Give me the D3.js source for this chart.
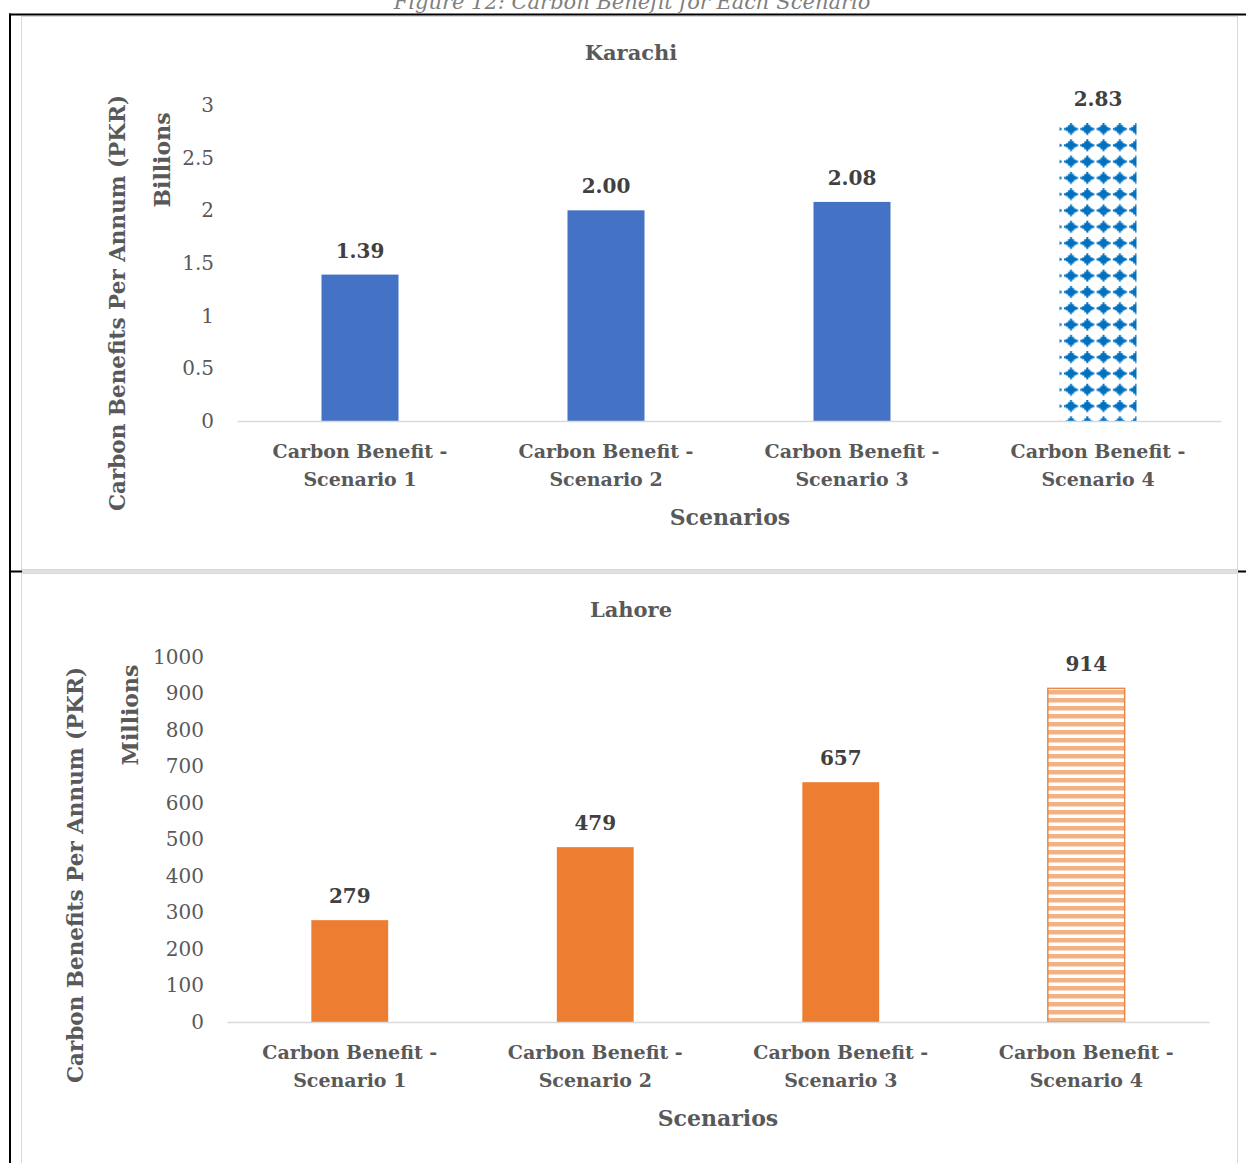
<!DOCTYPE html>
<html>
<head>
<meta charset="utf-8">
<script src="https://cdn.jsdelivr.net/npm/d3@7"></script>
<style>
  html, body { margin: 0; padding: 0; background: #fff; }
  svg { display: block; }
  text { font-family: "DejaVu Serif", "Liberation Serif", serif; }
</style>
</head>
<body>
<svg id="fig" width="1246" height="1163"></svg>
<script>
// Carbon benefit per scenario, two cities
const categories = ["Carbon Benefit - Scenario 1", "Carbon Benefit - Scenario 2", "Carbon Benefit - Scenario 3", "Carbon Benefit - Scenario 4"];
const karachiValues = [1.39, 2.00, 2.08, 2.83];   // billions PKR
const karachiLabels = ["1.39", "2.00", "2.08", "2.83"];
const karachiTicks = [0, 0.5, 1, 1.5, 2, 2.5, 3];
const lahoreValues = [279, 479, 657, 914];        // millions PKR
const lahoreLabels = ["279", "479", "657", "914"];
const lahoreTicks = [0, 100, 200, 300, 400, 500, 600, 700, 800, 900, 1000];

const svg = d3.select("#fig");
const textColor = "#595959";
const defs = svg.append("defs");

// Diamond pattern for Karachi scenario 4
const dia = defs.append("pattern").attr("id", "diamonds")
  .attr("patternUnits", "userSpaceOnUse").attr("width", 16.3).attr("height", 16.3)
  .attr("x", 1063).attr("y", 121);
dia.append("rect").attr("width", 16.3).attr("height", 16.3).attr("fill", "#fff");
dia.append("path").attr("fill", "#0070C0")
  .attr("d", "M7,2H9V4H11V6H13V7H15V9H13V10H11V12H9V14H7V12H5V10H3V9H1V7H3V6H5V4H7Z");

// Horizontal stripe pattern for Lahore scenario 4
const str = defs.append("pattern").attr("id", "stripes")
  .attr("patternUnits", "userSpaceOnUse").attr("width", 10).attr("height", 8)
  .attr("x", 0).attr("y", 690);
str.append("rect").attr("width", 10).attr("height", 8).attr("fill", "#fff");
str.append("rect").attr("y", 0).attr("width", 10).attr("height", 4.5).attr("fill", "#F4B183");

// Frame lines of the figure
svg.append("text").attr("x", 632).attr("y", 9).attr("text-anchor", "middle")
  .attr("font-style", "italic").attr("font-size", 21).attr("fill", "#7f7f7f")
  .attr("font-family", "Liberation Serif, serif")
  .text("Figure 12: Carbon Benefit for Each Scenario");
svg.append("rect").attr("x", 9).attr("y", 13.5).attr("width", 1240).attr("height", 2).attr("fill", "#000");
svg.append("rect").attr("x", 9).attr("y", 13.5).attr("width", 2).attr("height", 1160).attr("fill", "#000");
svg.append("rect").attr("x", 21.5).attr("y", 16.5).attr("width", 1216).attr("height", 553)
  .attr("fill", "#fff").attr("stroke", "#d9d9d9");
svg.append("rect").attr("x", 21.5).attr("y", 573.5).attr("width", 1216).attr("height", 600)
  .attr("fill", "#fff").attr("stroke", "#d9d9d9");
svg.append("rect").attr("x", 22).attr("y", 570).attr("width", 1216).attr("height", 3).attr("fill", "#e0e0e0");
svg.append("rect").attr("x", 9).attr("y", 570.5).attr("width", 13).attr("height", 2).attr("fill", "#000");
svg.append("rect").attr("x", 1238).attr("y", 570.5).attr("width", 8).attr("height", 2).attr("fill", "#000");

function drawChart(cfg) {
  const g = svg.append("g");
  const x = d3.scaleBand().domain(categories).range([cfg.x0, cfg.x1])
    .paddingInner(0.687).paddingOuter(0.3435);
  const y = d3.scaleLinear().domain(cfg.domain).range([cfg.y0, cfg.y1]);

  // title
  g.append("text").attr("x", 631).attr("y", cfg.titleY).attr("text-anchor", "middle")
    .attr("font-size", 21).attr("font-weight", "bold").attr("fill", textColor).text(cfg.title);

  // y axis
  const ya = g.append("g").attr("transform", `translate(${cfg.x0},0)`)
    .call(d3.axisLeft(y).tickValues(cfg.ticks).tickSize(0).tickPadding(23).tickFormat(d => String(d)));
  ya.select(".domain").remove();
  ya.selectAll("text").attr("font-size", 20).attr("fill", textColor)
    .attr("font-family", "DejaVu Serif, serif");

  // bars
  g.selectAll("rect.bar").data(cfg.values).join("rect").attr("class", "bar")
    .attr("x", (d, i) => x(categories[i]))
    .attr("width", x.bandwidth())
    .attr("y", d => y(d))
    .attr("height", d => y(0) - y(d))
    .attr("fill", (d, i) => i === 3 ? cfg.patternFill : cfg.color)
    .attr("stroke", (d, i) => i === 3 ? cfg.patternStroke : "none")
    .attr("stroke-width", 1.5);

  // value labels
  g.selectAll("text.val").data(cfg.values).join("text").attr("class", "val")
    .attr("x", (d, i) => x(categories[i]) + x.bandwidth() / 2)
    .attr("y", d => y(d) - 17)
    .attr("text-anchor", "middle").attr("font-size", 20).attr("font-weight", "bold")
    .attr("fill", "#404040").text((d, i) => cfg.labels[i]);

  // x axis
  const xa = g.append("g").attr("transform", `translate(0,${cfg.y0})`)
    .call(d3.axisBottom(x).tickSize(0).tickFormat(""));
  xa.select(".domain").attr("stroke", "#d9d9d9").attr("stroke-width", 1.5);
  xa.selectAll(".tick").each(function (d) {
    const parts = d.split(" - ");
    const t = d3.select(this).append("text").attr("fill", textColor)
      .attr("text-anchor", "middle").attr("font-size", 19).attr("font-weight", "bold")
      .attr("font-family", "DejaVu Serif, serif");
    t.append("tspan").attr("x", 0).attr("y", 37).text(parts[0] + " -");
    t.append("tspan").attr("x", 0).attr("y", 65).text(parts[1]);
  });

  // axis titles
  g.append("text").attr("x", cfg.xTitleX).attr("y", cfg.y0 + 104).attr("text-anchor", "middle")
    .attr("font-size", 22).attr("font-weight", "bold").attr("fill", textColor).text("Scenarios");
  g.append("text").attr("transform", `translate(${cfg.yTitleX},${cfg.yTitleY}) rotate(-90)`)
    .attr("text-anchor", "middle").attr("font-size", 21.5).attr("font-weight", "bold")
    .attr("fill", textColor).text("Carbon Benefits Per Annum (PKR)");
  g.append("text").attr("transform", `translate(${cfg.unitX},${cfg.unitY}) rotate(-90)`)
    .attr("text-anchor", "middle").attr("font-size", 22).attr("font-weight", "bold")
    .attr("fill", textColor).text(cfg.unit);
}

drawChart({
  title: "Karachi", titleY: 60, values: karachiValues, labels: karachiLabels,
  ticks: karachiTicks, domain: [0, 3], x0: 237, x1: 1221, y0: 421, y1: 105,
  color: "#4472C4", patternFill: "url(#diamonds)", patternStroke: "none",
  xTitleX: 730, yTitleX: 125, yTitleY: 303, unitX: 170, unitY: 160, unit: "Billions"
});

drawChart({
  title: "Lahore", titleY: 617, values: lahoreValues, labels: lahoreLabels,
  ticks: lahoreTicks, domain: [0, 1000], x0: 227, x1: 1209, y0: 1022, y1: 657,
  color: "#ED7D31", patternFill: "url(#stripes)", patternStroke: "#E8884A",
  xTitleX: 718, yTitleX: 83, yTitleY: 875, unitX: 138, unitY: 715, unit: "Millions"
});
</script>
</body>
</html>
